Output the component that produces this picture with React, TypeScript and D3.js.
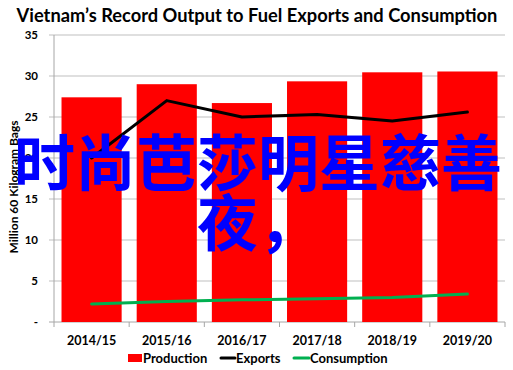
import React from "react";
import * as d3 from "d3";

const categories = ["2014/15", "2015/16", "2016/17", "2017/18", "2018/19", "2019/20"];
const production = [27.4, 29.0, 26.7, 29.35, 30.45, 30.55];
const exportsVals = [20.0, 27.0, 25.0, 25.3, 24.5, 25.6];
const consumption = [2.2, 2.5, 2.7, 2.85, 3.0, 3.4];
const yTicks = [0, 5, 10, 15, 20, 25, 30, 35];
const title = "Vietnam\u2019s Record Output to Fuel Exports and Consumption";
const yTitle = "Million 60 Kilogram Bags";
const overlayLines = ["时尚芭莎明星慈善", "夜，"];

const W = 513;
const H = 370;
const font = "Lato, 'Open Sans', sans-serif";

export default function App() {
  const x = d3.scaleBand<string>().domain(categories).range([54, 505]).paddingInner(0.2).paddingOuter(0.1);
  const y = d3.scaleLinear().domain([0, 35]).range([322, 35]);
  const xc = (c: string) => (x(c) as number) + x.bandwidth() / 2;
  const line = d3
    .line<number>()
    .x((_, i) => xc(categories[i]))
    .y((d) => y(d));
  const step = (505 - 54) / categories.length;
  const boundaries = d3.range(categories.length + 1).map((i) => 54 + i * step);

  return (
    <svg width={W} height={H} style={{ position: "absolute", left: 0, top: 0, background: "#fff" }}>
      <text x={257} y={22} textAnchor="middle" fontFamily={font} fontWeight={700} fontSize={18.3} fill="#000">
        {title}
      </text>
      {yTicks.map((t) => (
        <g key={t}>
          <line x1={49} x2={505} y1={y(t)} y2={y(t)} stroke={t === 0 ? "#a6a6a6" : "#bfbfbf"} strokeWidth={1} />
          <text x={38} y={y(t) + 4} textAnchor="end" fontFamily={font} fontWeight={700} fontSize={11.5} fill="#000">
            {t === 0 ? "-" : t}
          </text>
        </g>
      ))}
      <line x1={54} x2={54} y1={35} y2={322} stroke="#a6a6a6" strokeWidth={1} />
      {boundaries.map((b, i) => (
        <line key={i} x1={b} x2={b} y1={322} y2={327} stroke="#a6a6a6" strokeWidth={1} />
      ))}
      {categories.map((c, i) => (
        <rect key={c} x={x(c)} y={y(production[i])} width={x.bandwidth()} height={y(0) - y(production[i])} fill="#ff0000" />
      ))}
      <path d={line(consumption) || ""} fill="none" stroke="#00b050" strokeWidth={3} strokeLinecap="round" />
      <path d={line(exportsVals) || ""} fill="none" stroke="#000" strokeWidth={3} strokeLinecap="round" strokeLinejoin="round" />
      {categories.map((c) => (
        <text key={c} x={xc(c)} y={345} textAnchor="middle" fontFamily={font} fontWeight={700} fontSize={12.5} fill="#000">
          {c}
        </text>
      ))}
      <text
        transform={`translate(18,187) rotate(-90)`}
        textAnchor="middle"
        fontFamily={font}
        fontWeight={700}
        fontSize={12}
        fill="#000"
      >
        {yTitle}
      </text>
      <g fontFamily={font} fontWeight={700} fontSize={13} fill="#000">
        <rect x={128} y={354} width={14} height={8} fill="#ff0000" />
        <text x={143} y={362.5}>Production</text>
        <line x1={221} x2={235} y1={358} y2={358} stroke="#000" strokeWidth={3} strokeLinecap="round" />
        <text x={236} y={362.5}>Exports</text>
        <line x1={294} x2={309} y1={358} y2={358} stroke="#00b050" strokeWidth={3} strokeLinecap="round" />
        <text x={310} y={362.5}>Consumption</text>
      </g>
      {overlayLines.map((l, i) => (
        <text
          key={i}
          x={258}
          y={186 + i * 60}
          textAnchor="middle"
          fontFamily="'Noto Sans CJK SC', sans-serif"
          fontWeight={700}
          fontSize={61}
          fill="#0000ff"
        >
          {l}
        </text>
      ))}
    </svg>
  );
}
